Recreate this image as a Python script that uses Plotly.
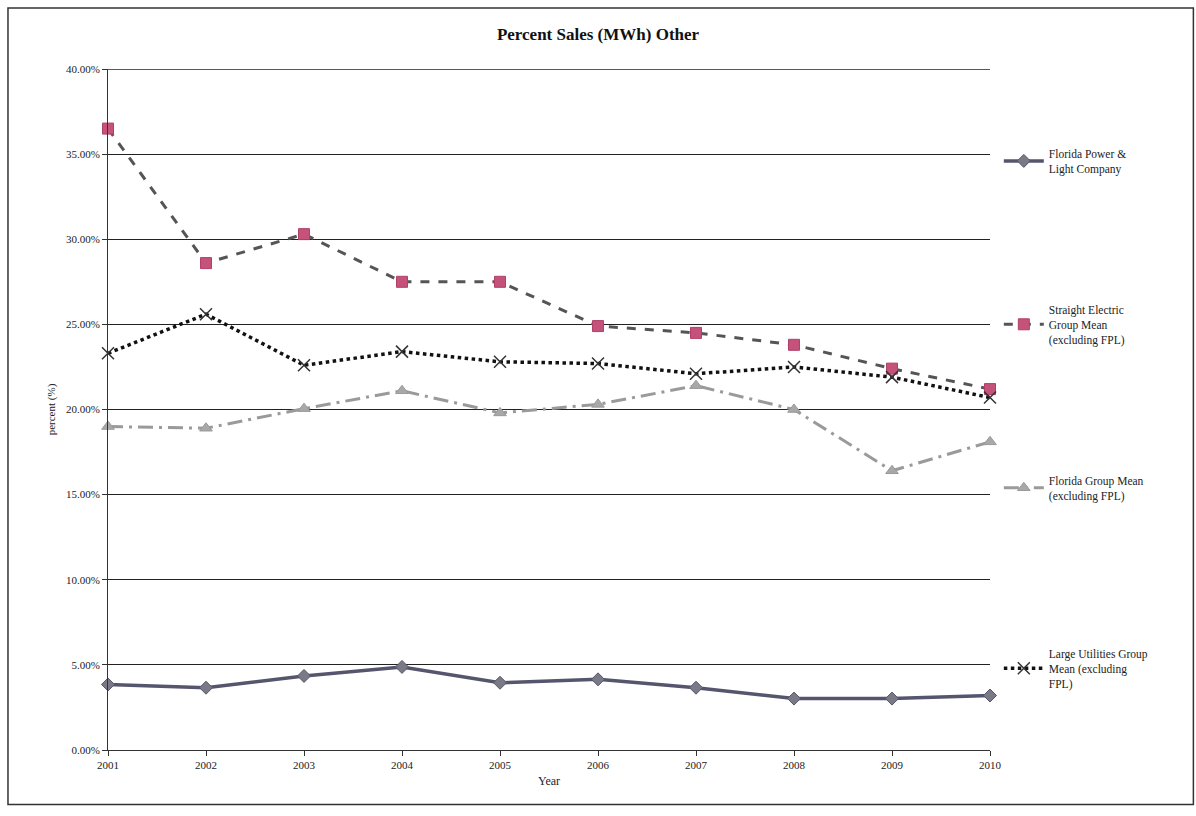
import plotly.graph_objects as go

# Percent of sales (MWh) in the "Other" class, 2001-2010
years = [2001, 2002, 2003, 2004, 2005, 2006, 2007, 2008, 2009, 2010]
fpl = [3.85, 3.66, 4.35, 4.88, 3.95, 4.15, 3.66, 3.02, 3.02, 3.2]
straight_electric = [36.5, 28.6, 30.3, 27.5, 27.5, 24.9, 24.5, 23.8, 22.4, 21.2]
florida_group = [19.0, 18.9, 20.05, 21.1, 19.8, 20.3, 21.4, 20.0, 16.4, 18.1]
large_utilities = [23.3, 25.6, 22.6, 23.4, 22.8, 22.7, 22.1, 22.5, 21.9, 20.7]

y_ticks = [0, 5, 10, 15, 20, 25, 30, 35, 40]
y_tick_text = [f"{v:.2f}%" for v in y_ticks]

FONT = "Liberation Serif"

fig = go.Figure()

fig.add_trace(go.Scatter(
    x=years, y=fpl, mode="lines+markers",
    name="Florida Power &<br>Light Company",
    line=dict(color="#55556e", width=3.5),
    marker=dict(symbol="diamond", size=10, color="#7a7a86",
                line=dict(color="#55556e", width=1)),
    legend="legend", cliponaxis=False,
))
fig.add_trace(go.Scatter(
    x=years, y=straight_electric, mode="lines+markers",
    name="Straight Electric<br>Group Mean<br>(excluding FPL)",
    line=dict(color="#555555", width=3, dash="dash"),
    marker=dict(symbol="square", size=11, color="#c4527a",
                line=dict(color="#b04068", width=1)),
    legend="legend2", cliponaxis=False,
))
fig.add_trace(go.Scatter(
    x=years, y=florida_group, mode="lines+markers",
    name="Florida Group Mean<br>(excluding FPL)",
    line=dict(color="#9a9a9a", width=3, dash="longdashdot"),
    marker=dict(symbol="triangle-up", size=11, color="#a8a8a8",
                line=dict(color="#9a9a9a", width=1)),
    legend="legend3", cliponaxis=False,
))
fig.add_trace(go.Scatter(
    x=years, y=large_utilities, mode="lines+markers",
    name="Large Utilities Group<br>Mean (excluding<br>FPL)",
    line=dict(color="#111111", width=3.5, dash="dot"),
    marker=dict(symbol="x-thin", size=12, color="#333333",
                line=dict(color="#333333", width=1.5)),
    legend="legend4", cliponaxis=False,
))

legend_common = dict(
    xanchor="left", yanchor="middle", x=1.01,
    font=dict(family=FONT, size=11.5, color="#222222"),
    bgcolor="rgba(0,0,0,0)", itemwidth=40,
)

fig.update_layout(
    width=1196, height=816,
    margin=dict(l=108, r=206, t=69, b=66),
    paper_bgcolor="white", plot_bgcolor="white",
    showlegend=True,
    title=dict(text="<b>Percent Sales (MWh) Other</b>", x=0.5, xanchor="center",
               y=0.958, yanchor="middle",
               font=dict(family=FONT, size=17, color="#111111")),
    font=dict(family=FONT, size=11, color="#222222"),
    xaxis=dict(
        title=dict(text="Year", font=dict(family=FONT, size=12), standoff=6),
        range=[2001, 2010], tickmode="array", tickvals=years,
        ticktext=[str(y) for y in years],
        showgrid=False, showline=True, linecolor="#333333", linewidth=1,
        ticks="outside", ticklen=5, tickcolor="#333333",
        tickfont=dict(family=FONT, size=11), zeroline=False,
    ),
    yaxis=dict(
        title=dict(text="percent (%)", font=dict(family=FONT, size=11), standoff=8),
        range=[0, 40], tickmode="array", tickvals=y_ticks, ticktext=y_tick_text,
        showgrid=True, gridcolor="#222222", gridwidth=1.3,
        showline=True, linecolor="#333333", linewidth=1,
        ticks="outside", ticklen=5, tickcolor="#333333",
        tickfont=dict(family=FONT, size=11), zeroline=False,
    ),
    legend=dict(y=0.865, **legend_common),
    legend2=dict(y=0.625, **legend_common),
    legend3=dict(y=0.385, **legend_common),
    legend4=dict(y=0.12, **legend_common),
    shapes=[
        # top gridline at the 40% ceiling
        dict(type="line", xref="paper", yref="y", x0=0, x1=1, y0=40, y1=40,
             line=dict(color="#222222", width=1.3), layer="below"),
        # outer frame
        dict(type="rect", xref="paper", yref="paper",
             x0=-0.1134, x1=1.2306, y0=-0.08, y1=1.0896,
             line=dict(color="#333333", width=1.5)),
    ],
)

fig.write_html("out.html")
